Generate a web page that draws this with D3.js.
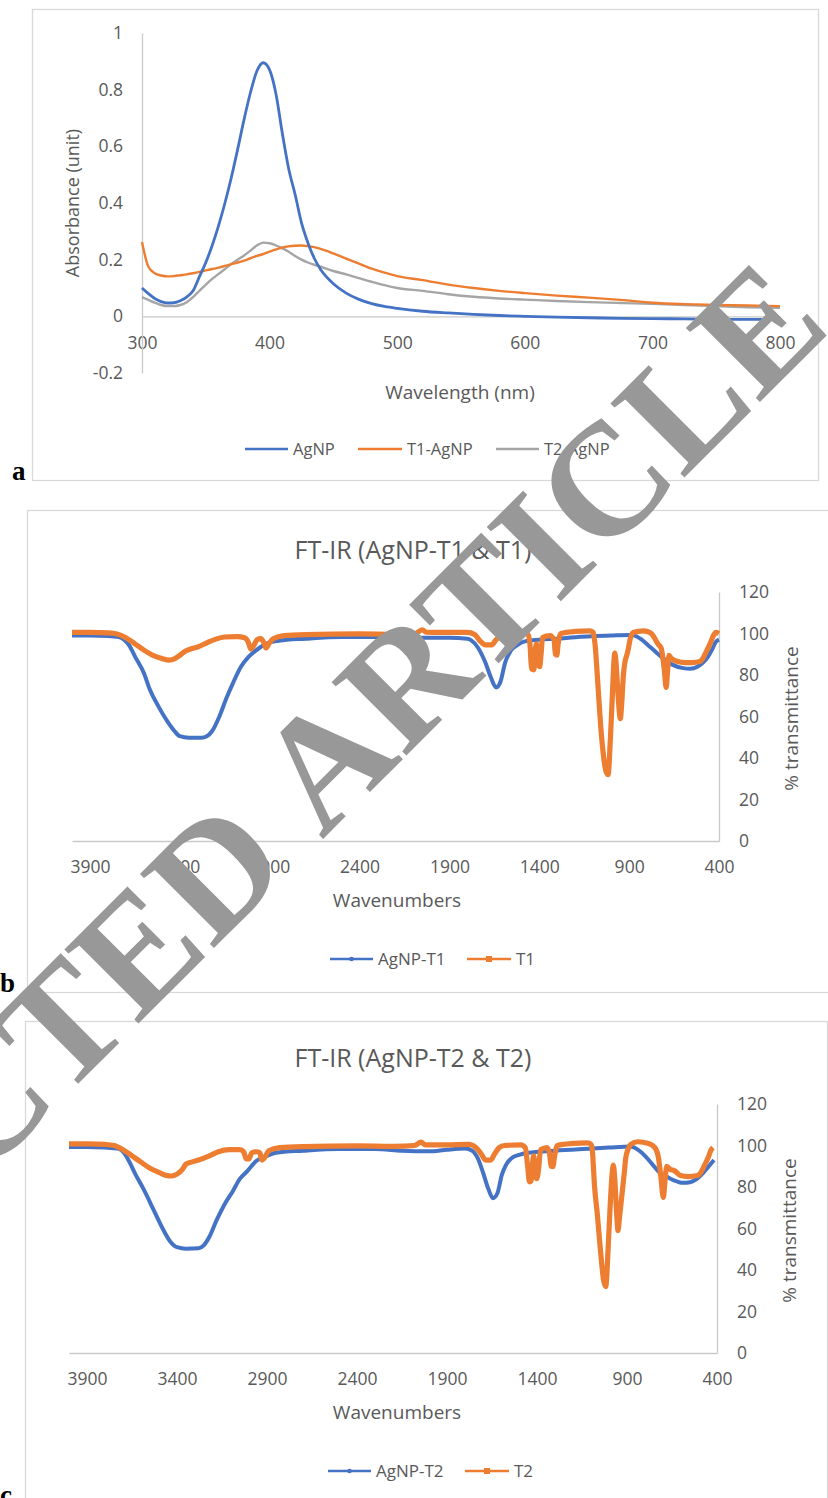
<!DOCTYPE html>
<html>
<head>
<meta charset="utf-8">
<script src="https://cdn.jsdelivr.net/npm/d3@7"></script>
<style>
  body { margin: 0; background: #fff; }
  svg text { font-family: "Open Sans", sans-serif; fill: #595959; }
</style>
</head>
<body>
<svg id="chart" width="828" height="1498"></svg>
<script>
// ---------- UV-Vis data (panel a) ----------
const uvWavelength = [300,305,310,315,320,325,330,335,340,345,350,355,360,365,370,375,380,385,390,395,
  400,405,410,415,420,425,430,435,440,450,460,470,480,490,500,520,540,560,580,600,625,650,675,700,725,750,775,800];
const uvAgNP = [0.100,0.080,0.063,0.052,0.047,0.048,0.055,0.068,0.090,0.140,0.190,0.250,0.320,0.400,0.490,0.590,0.695,0.790,0.865,0.895,
  0.870,0.785,0.645,0.520,0.430,0.330,0.260,0.205,0.165,0.115,0.082,0.060,0.045,0.035,0.028,0.018,0.012,0.007,0.003,0.000,-0.003,-0.005,-0.007,-0.008,-0.009,-0.010,-0.011,-0.011];
const uvT1 = [0.262,0.175,0.152,0.144,0.141,0.142,0.145,0.148,0.152,0.157,0.162,0.167,0.172,0.178,0.184,0.190,0.197,0.205,0.213,0.220,
  0.228,0.236,0.243,0.247,0.249,0.250,0.248,0.244,0.238,0.222,0.204,0.186,0.168,0.154,0.142,0.128,0.112,0.100,0.090,0.082,0.073,0.066,0.058,0.048,0.043,0.040,0.038,0.036];
const uvT2 = [0.068,0.058,0.048,0.040,0.036,0.036,0.040,0.050,0.068,0.090,0.112,0.132,0.150,0.167,0.185,0.200,0.215,0.232,0.250,0.260,
  0.258,0.250,0.240,0.228,0.213,0.200,0.190,0.182,0.175,0.160,0.148,0.135,0.122,0.110,0.100,0.090,0.078,0.069,0.063,0.059,0.054,0.050,0.047,0.044,0.040,0.036,0.032,0.030];
const uvSeries = ['AgNP', 'T1-AgNP', 'T2-AgNP'];
const uvXTicks = [300,400,500,600,700,800];
const uvYTicks = [-0.2,0,0.2,0.4,0.6,0.8,1];

// ---------- FT-IR data (panel b) : [wavenumber, %T] ----------
const irB_AgNP = [[4000,99],[3900,99],[3800,98.8],[3740,98.3],[3710,97],[3680,94],[3650,89],[3600,81],[3567,73],[3520,65],
  [3472,58],[3430,53],[3400,50.5],[3350,49.8],[3280,49.8],[3250,50.5],[3220,53],[3180,60],[3140,69],[3105,76],[3060,84],
  [3020,88.5],[2994,90.6],[2950,93.5],[2917,95.2],[2850,96.5],[2700,97.5],[2500,98.3],[2300,98.3],[2100,98],[1900,98],
  [1800,97.5],[1780,96.8],[1740,93],[1700,86],[1670,79],[1640,74],[1615,77],[1590,86],[1560,91.5],[1520,94.5],[1480,96.2],
  [1400,97],[1300,97.5],[1200,98.2],[1000,99],[900,99.3],[870,99],[830,97],[790,94],[750,91],[711,88],[660,85],[600,83.3],
  [561,83],[520,84],[489,86],[460,89],[440,92],[417,96],[400,97]];
const irB_T1 = [[4000,100.5],[3900,100.5],[3800,100.3],[3750,99.8],[3700,98],[3650,95],[3600,92],[3550,89.5],[3500,88],
  [3460,87.2],[3430,87.8],[3400,89.5],[3370,91.5],[3340,92.5],[3300,93.5],[3250,95.5],[3200,97.3],[3150,98.3],[3080,98.5],
  [3040,98],[3020,96],[3005,92.5],[2990,94],[2970,97],[2950,97.5],[2935,96],[2920,93],[2905,95],[2880,97.5],[2820,99],
  [2700,99.5],[2400,99.8],[2200,99.6],[2090,100],[2050,101.8],[2030,100.6],[1950,100.5],[1800,100.5],[1760,99.5],[1730,96.5],
  [1700,94.5],[1665,94.5],[1640,97],[1610,99],[1580,100],[1500,100.5],[1465,100],[1452,95],[1443,83],[1430,82.5],[1422,92],
  [1415,95],[1408,86],[1398,84],[1390,90],[1382,98],[1340,99],[1318,97],[1310,90],[1302,89.6],[1295,95],[1280,100],
  [1200,101],[1120,101.3],[1100,100.5],[1090,95],[1072,73],[1058,55],[1044,42],[1030,34],[1017,32],[1005,48],[994,69],
  [985,86],[980,90.6],[972,85],[960,68],[949,59],[940,68],[932,80],[924,86],[915,89],[906,92],[895,97],[878,100.5],
  [820,101.3],[780,100.3],[760,98],[740,95],[722,93],[705,83],[694,74],[686,82],[678,89.5],[665,88],[656,87.5],[630,86.5],
  [590,86],[550,86],[506,86.5],[490,88],[472,91],[450,95],[428,99.5],[418,100.5],[400,100]];

// ---------- FT-IR data (panel c) ----------
const irC_AgNP = [[4000,99.3],[3900,99.3],[3800,99],[3730,98.5],[3700,97],[3670,93],[3630,86],[3580,78],[3530,69],
  [3480,60],[3440,54],[3400,51],[3350,50.3],[3280,50.5],[3250,52],[3220,56],[3180,64],[3140,71],[3090,78],[3050,84],
  [3011,87.5],[2960,92.5],[2900,95],[2850,96.5],[2700,97.5],[2500,98.3],[2300,98.3],[2150,97.5],[2000,97.2],[1900,98],
  [1800,98.5],[1760,97.5],[1730,94],[1700,87],[1670,79],[1645,74.6],[1620,77],[1595,86],[1570,91],[1540,94],[1500,95.5],
  [1450,96.5],[1300,97.5],[1100,98.5],[1000,99],[880,99.5],[840,98],[800,95],[760,91],[720,87],[680,85],[640,83.2],
  [590,82],[550,82.3],[510,84],[480,86.5],[450,89.5],[417,93]];
const irC_T2 = [[4000,100.8],[3900,100.8],[3800,100.5],[3750,100],[3700,98],[3650,95],[3600,92],[3550,89],[3500,87],
  [3460,85.6],[3430,85.3],[3400,86.2],[3370,88.5],[3350,91],[3320,92],[3280,93],[3220,95],[3170,97],[3110,98],[3050,98],
  [3030,97],[3015,93.5],[3000,93.5],[2985,96.5],[2960,97],[2940,96.5],[2928,93],[2915,94],[2890,97.5],[2830,99],[2700,99.5],
  [2400,99.8],[2200,99.6],[2080,100],[2045,101.6],[2020,100.3],[1900,100.3],[1780,100.5],[1740,99],[1710,96],[1685,93],
  [1657,93],[1635,96],[1610,99],[1580,100],[1490,100.3],[1465,99],[1452,90],[1442,82.5],[1432,83],[1424,92],[1418,95],
  [1410,87],[1402,84],[1392,88],[1380,98],[1345,99],[1330,96],[1322,90],[1312,89.8],[1302,95],[1287,100],[1200,101],
  [1120,101.3],[1100,100.5],[1093,98],[1080,80],[1065,67],[1046,48],[1030,35],[1018,32],[1005,50],[994,70],[984,85],
  [976,90.6],[968,84],[958,68],[950,59],[942,65],[926,78],[915,87],[907,94],[895,98],[880,100.5],[840,101.8],[780,101],
  [745,99],[725,94],[712,85],[698,75],[690,82],[679,90],[660,88.5],[639,88],[602,85.5],[560,85],[509,85.5],[490,87],
  [472,90],[450,94],[432,98],[422,99]];
const irXTicks = [3900,3400,2900,2400,1900,1400,900,400];
const irYTicks = [0,20,40,60,80,100,120];

const watermark = ['RETRACTED', 'ARTICLE'];

const BLUE = '#4472C4', ORANGE = '#ED7D31', GRAY = '#A5A5A5';
const AXIS = '#c9c9c9', FRAME = '#d9d9d9', TXT = '#595959';

const svg = d3.select('#chart');
svg.append('rect').attr('width', 828).attr('height', 1498).attr('fill', '#fff');

function frame(x, y, w, h) {
  svg.append('rect')
    .attr('x', x + 0.5).attr('y', y + 0.5)
    .attr('width', w).attr('height', h)
    .attr('fill', 'none').attr('stroke', FRAME).attr('stroke-width', 1.3);
}

function styleAxis(g, size) {
  g.attr('font-family', '"Open Sans", sans-serif').attr('font-size', size);
  g.select('.domain').attr('stroke', AXIS).attr('stroke-width', 1.3);
  g.selectAll('text').attr('fill', TXT);
}

function panelLabel(txt, x, y) {
  svg.append('text').attr('x', x).attr('y', y).text(txt)
    .style('font-family', '"Liberation Serif", serif').style('font-weight', 'bold')
    .style('font-size', '27px').style('fill', '#000');
}

function legend(items, y) {
  items.forEach(it => {
    const g = svg.append('g');
    g.append('line').attr('x1', it.x0).attr('x2', it.x1).attr('y1', y).attr('y2', y)
      .attr('stroke', it.color).attr('stroke-width', 2.6);
    if (it.marker === 'circle') {
      g.append('circle').attr('cx', (it.x0 + it.x1) / 2).attr('cy', y).attr('r', 2.3).attr('fill', it.color);
    } else if (it.marker === 'square') {
      g.append('rect').attr('x', (it.x0 + it.x1) / 2 - 3).attr('y', y - 3).attr('width', 6).attr('height', 6).attr('fill', it.color);
    }
    g.append('text').attr('x', it.x1 + 5).attr('y', y).attr('dy', '0.35em')
      .style('font-size', it.size + 'px').text(it.name);
  });
}

// ================= panel a : UV-Vis =================
frame(32, 9, 786, 471);
const uvX = d3.scaleLinear().domain([300, 800]).range([142, 780]);
const uvY = d3.scaleLinear().domain([-0.2, 1]).range([373, 33]);

const uvXAxis = svg.append('g').attr('transform', `translate(0,${uvY(0)})`)
  .call(d3.axisBottom(uvX).tickValues(uvXTicks).tickSize(0).tickSizeOuter(0).tickPadding(20));
styleAxis(uvXAxis, 17.5);
const uvYAxis = svg.append('g').attr('transform', `translate(${uvX(300)},0)`)
  .call(d3.axisLeft(uvY).tickValues(uvYTicks).tickSize(0).tickSizeOuter(0).tickPadding(19)
    .tickFormat(d => String(+d.toFixed(1))));
styleAxis(uvYAxis, 17.5);

svg.append('text').attr('transform', 'translate(73,203) rotate(-90)')
  .attr('text-anchor', 'middle').attr('dy', '0.35em').style('font-size', '18px').text('Absorbance (unit)');
svg.append('text').attr('x', 460).attr('y', 392).attr('dy', '0.35em')
  .attr('text-anchor', 'middle').style('font-size', '19px').text('Wavelength (nm)');

const uvLine = d3.line().x(d => uvX(d[0])).y(d => uvY(d[1])).curve(d3.curveMonotoneX);
[[uvT2, GRAY, 2.4], [uvT1, ORANGE, 2.4], [uvAgNP, BLUE, 2.8]].forEach(([vals, col, w]) => {
  svg.append('path')
    .datum(uvWavelength.map((wl, i) => [wl, vals[i]]))
    .attr('fill', 'none').attr('stroke', col).attr('stroke-width', w)
    .attr('stroke-linejoin', 'round').attr('d', uvLine);
});

legend([
  { name: uvSeries[0], color: BLUE, x0: 245, x1: 288, size: 16.5 },
  { name: uvSeries[1], color: ORANGE, x0: 358, x1: 402, size: 16.5 },
  { name: uvSeries[2], color: GRAY, x0: 496, x1: 539, size: 16.5 }
], 449);
panelLabel('a', 12, 480);

// ================= FT-IR panels =================
function irPanel(cfg) {
  frame(cfg.fx, cfg.fy, cfg.fw, cfg.fh);
  const x = d3.scaleLinear().domain([4000, 400]).range([cfg.x0, cfg.x1]);
  const y = d3.scaleLinear().domain([0, 120]).range([cfg.y0, cfg.y1]);

  svg.append('text').attr('x', 413).attr('y', cfg.titleY).attr('dy', '0.35em')
    .attr('text-anchor', 'middle').style('font-size', '25px').text(cfg.title);

  const gx = svg.append('g').attr('transform', `translate(0,${cfg.y0})`)
    .call(d3.axisBottom(x).tickValues(irXTicks).tickSize(0).tickSizeOuter(0).tickPadding(20).tickFormat(d3.format('d')));
  styleAxis(gx, 17.5);
  const gy = svg.append('g').attr('transform', `translate(${cfg.x1},0)`)
    .call(d3.axisRight(y).tickValues(irYTicks).tickSize(0).tickSizeOuter(0).tickPadding(20));
  styleAxis(gy, 17.5);

  svg.append('text').attr('transform', `translate(${cfg.x1 + 72},${(cfg.y0 + cfg.y1) / 2 + 2}) rotate(-90)`)
    .attr('text-anchor', 'middle').attr('dy', '0.35em').style('font-size', '19px').text('% transmittance');
  svg.append('text').attr('x', 397).attr('y', cfg.y0 + 59).attr('dy', '0.35em')
    .attr('text-anchor', 'middle').style('font-size', '19px').text('Wavenumbers');

  const line = d3.line().x(d => x(d[0])).y(d => y(d[1])).curve(d3.curveMonotoneX);
  svg.append('path').datum(cfg.blue).attr('fill', 'none').attr('stroke', BLUE)
    .attr('stroke-width', 4).attr('stroke-linejoin', 'round').attr('d', line);
  svg.append('path').datum(cfg.orange).attr('fill', 'none').attr('stroke', ORANGE)
    .attr('stroke-width', 5.2).attr('stroke-linejoin', 'round').attr('d', line);

  legend([
    { name: cfg.names[0], color: BLUE, x0: cfg.lx, x1: cfg.lx + 43, size: 17, marker: 'circle' },
    { name: cfg.names[1], color: ORANGE, x0: cfg.lx + 137, x1: cfg.lx + 181, size: 17, marker: 'square' }
  ], cfg.ly);
  panelLabel(cfg.label, cfg.labX, cfg.labY);
}

irPanel({
  fx: 27, fy: 510, fw: 810, fh: 482,
  x0: 72, x1: 719, y0: 841, y1: 592,
  title: 'FT-IR (AgNP-T1 & T1)', titleY: 550,
  blue: irB_AgNP, orange: irB_T1, names: ['AgNP-T1', 'T1'],
  lx: 330, ly: 959, label: 'b', labX: 0, labY: 992
});
irPanel({
  fx: 25, fy: 1021, fw: 802, fh: 500,
  x0: 69, x1: 717, y0: 1353, y1: 1104,
  title: 'FT-IR (AgNP-T2 & T2)', titleY: 1058,
  blue: irC_AgNP, orange: irC_T2, names: ['AgNP-T2', 'T2'],
  lx: 328, ly: 1471, label: 'c', labX: 0, labY: 1504
});

// ================= watermark =================
const wmSize = 160;
const wm = svg.append('g').attr('transform', 'translate(322,840) rotate(-45)');
wm.append('text').attr('x', -0.25 * wmSize).attr('text-anchor', 'end').text(watermark[0]);
wm.append('text').attr('x', 0).attr('text-anchor', 'start').text(watermark[1]);
wm.selectAll('text')
  .style('font-family', '"Liberation Serif", "Times New Roman", serif')
  .style('font-weight', 'bold').style('font-size', wmSize + 'px').style('fill', '#989898');
</script>
</body>
</html>
